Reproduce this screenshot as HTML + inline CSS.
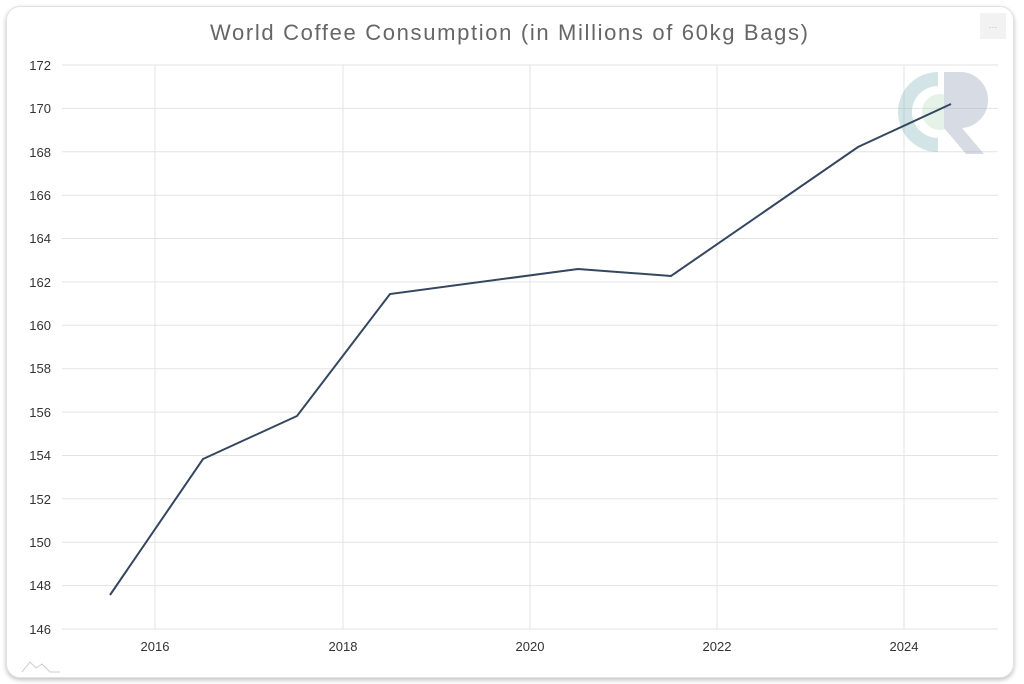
<!DOCTYPE html>
<html><head><meta charset="utf-8"><style>
body{margin:0;background:#fff;width:1024px;height:684px;overflow:hidden;font-family:"Liberation Sans",sans-serif}
.card{position:absolute;left:6px;top:6px;width:1006px;height:670px;border:1px solid #e2e2e2;border-radius:14px;box-shadow:0 2px 5px rgba(0,0,0,0.25);background:#fff}
</style></head><body>
<div class="card"></div>
<svg width="1024" height="684" style="position:absolute;left:0;top:0">
<text x="210" y="40" font-size="22" fill="#666" textLength="598" lengthAdjust="spacing">World Coffee Consumption (in Millions of 60kg Bags)</text>
<rect x="980" y="13" width="26" height="26" fill="#f2f2f2"/>
<text x="993" y="30" text-anchor="middle" font-size="9" fill="#bbb">···</text>
<g stroke="#e3e3e3" stroke-width="1">
<line x1="62" x2="998" y1="65" y2="65"/><line x1="62" x2="998" y1="108.4" y2="108.4"/><line x1="62" x2="998" y1="151.8" y2="151.8"/><line x1="62" x2="998" y1="195.2" y2="195.2"/><line x1="62" x2="998" y1="238.5" y2="238.5"/><line x1="62" x2="998" y1="281.9" y2="281.9"/><line x1="62" x2="998" y1="325.3" y2="325.3"/><line x1="62" x2="998" y1="368.7" y2="368.7"/><line x1="62" x2="998" y1="412.1" y2="412.1"/><line x1="62" x2="998" y1="455.5" y2="455.5"/><line x1="62" x2="998" y1="498.8" y2="498.8"/><line x1="62" x2="998" y1="542.2" y2="542.2"/><line x1="62" x2="998" y1="585.6" y2="585.6"/><line x1="62" x2="998" y1="629" y2="629"/>
<line x1="155" x2="155" y1="65" y2="629"/><line x1="343" x2="343" y1="65" y2="629"/><line x1="530" x2="530" y1="65" y2="629"/><line x1="717" x2="717" y1="65" y2="629"/><line x1="904" x2="904" y1="65" y2="629"/>
</g>
<g font-size="13" fill="#333" text-anchor="end">
<text x="51" y="70">172</text><text x="51" y="113">170</text><text x="51" y="157">168</text><text x="51" y="200">166</text><text x="51" y="243">164</text><text x="51" y="287">162</text><text x="51" y="330">160</text><text x="51" y="373">158</text><text x="51" y="417">156</text><text x="51" y="460">154</text><text x="51" y="504">152</text><text x="51" y="547">150</text><text x="51" y="590">148</text><text x="51" y="634">146</text>
</g>
<g font-size="13" fill="#333" text-anchor="middle">
<text x="155" y="651">2016</text><text x="343" y="651">2018</text><text x="530" y="651">2020</text><text x="717" y="651">2022</text><text x="904" y="651">2024</text>
</g>
<g opacity="0.35">
<path d="M938 72 A40 40 0 1 0 938 152 L938 138 A26 26 0 1 1 938 86 Z" fill="#7fb3b8"/>
<circle cx="940" cy="112" r="18" fill="#b6dcc0"/>
<path d="M944 72 L958 72 A22 22 0 0 1 962 128 L984 154 L966 154 L944 128 Z" fill="#8f9bb5"/>
</g>
<polyline fill="none" stroke="#34475f" stroke-width="2" points="110,595 203,459 297,416 390,294 578,269 671,276 858,147 951,104"/>
<path d="M22 672 L30 662 L36 668 L42 664 L50 672 L60 672" fill="none" stroke="#ccc" stroke-width="1"/>
</svg>
</body></html>
